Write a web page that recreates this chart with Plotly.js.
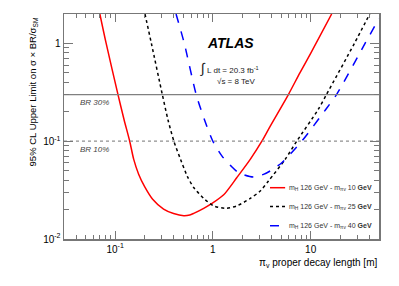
<!DOCTYPE html>
<html><head><meta charset="utf-8">
<script src="https://cdn.plot.ly/plotly-3.0.1.min.js"></script>
<style>html,body{margin:0;padding:0;background:#fff}#c{width:399px;height:286px}</style>
</head><body><div id="c"></div>
<script>
// decay length [m] and 95% CL limit on sigma x BR / sigma_SM
const red_x = [0.0698, 0.081, 0.107, 0.1235, 0.141, 0.155, 0.174, 0.201, 0.242, 0.313, 0.396, 0.504, 0.58, 0.637, 0.806, 0.98, 1.29, 1.76, 2.41, 3.17, 3.85, 5.92, 7.76, 10.0, 16.4];
const red_y = [2.0, 1.0, 0.3, 0.166, 0.1, 0.0652, 0.046, 0.0341, 0.0255, 0.0202, 0.0182, 0.0173, 0.0176, 0.0183, 0.0206, 0.0231, 0.0283, 0.0425, 0.0652, 0.1, 0.142, 0.3, 0.5, 0.79, 2.0];
const blk_x = [0.202, 0.235, 0.304, 0.347, 0.399, 0.467, 0.546, 0.637, 0.806, 1.02, 1.34, 1.76, 2.41, 3.05, 3.70, 5.47, 7.2, 11.9, 14.5, 28, 40.2];
const blk_y = [2.0, 1.0, 0.3, 0.166, 0.1, 0.0652, 0.044, 0.0336, 0.026, 0.0218, 0.0206, 0.0218, 0.026, 0.031, 0.0392, 0.065, 0.1, 0.21, 0.3, 1.0, 2.0];
const blu_x = [0.42, 0.51, 0.675, 0.82, 1.0, 1.24, 1.51, 1.83, 2.60, 3.29, 3.85, 5.07, 8.1, 14.2, 18.4, 36, 50];
const blu_y = [2.0, 1.0, 0.3, 0.166, 0.1, 0.0704, 0.0566, 0.0477, 0.043, 0.0458, 0.0496, 0.0603, 0.1, 0.21, 0.3, 1.0, 1.8];
const names = ['m<sub>H</sub> 126 GeV - m<sub>πv</sub> 10 <b>GeV</b>', 'm<sub>H</sub> 126 GeV - m<sub>πv</sub> 25 <b>GeV</b>', 'm<sub>H</sub> 126 GeV - m<sub>πv</sub> 40 <b>GeV</b>'];
const br_vals = [0.3, 0.1];
const br_labels = ['BR 30%', 'BR 10%'];
const xtickvals = [0.1, 1, 10];
const xticktext = ['10<sup>-1</sup>', '1', '10'];
const ytickvals = [0.01, 0.1, 1];
const yticktext = ['10<sup>-2</sup>', '10<sup>-1</sup>', '1'];

const colors = ['#ff0000', '#000000', '#0000ff'];
const dashes = ['solid', 'dot', 'dash'];
const xs = [red_x, blk_x, blu_x], ys = [red_y, blk_y, blu_y];

const traces = xs.map((x, i) => ({x: x, y: ys[i], name: names[i], mode: 'lines', showlegend: false,
  line: {color: colors[i], width: 1.5, dash: dashes[i], shape: 'spline', smoothing: 0.7}}));
traces.push({x: [0.03, 50], y: [br_vals[0], br_vals[0]], mode: 'lines', showlegend: false, line: {color: '#808080', width: 1.2}});
traces.push({x: [0.03, 50], y: [br_vals[1], br_vals[1]], mode: 'lines', showlegend: false, line: {color: '#909090', width: 1.2, dash: 'dot'}});

const font = 'Liberation Sans, Arial, sans-serif';
const axcol = '#777777';
const legY = [0.228, 0.144, 0.059];
const shapes = legY.map((yy, i) => ({type: 'line', xref: 'paper', yref: 'paper', x0: 0.654, x1: 0.702, y0: yy, y1: yy,
  line: {color: colors[i], width: 1.5, dash: dashes[i]}}));
const annotations = [
  {xref: 'paper', yref: 'paper', x: 0.527, y: 0.871, xanchor: 'center', yanchor: 'middle', text: '<b><i>ATLAS</i></b>', showarrow: false,
    font: {size: 14, family: font, color: '#000'}},
  {xref: 'paper', yref: 'paper', x: 0.525, y: 0.76, xanchor: 'center', yanchor: 'middle', text: '<span style="font-size:14px">∫</span> L dt = 20.3 fb<sup>-1</sup>', showarrow: false,
    font: {size: 8, family: font, color: '#222'}},
  {xref: 'paper', yref: 'paper', x: 0.546, y: 0.698, xanchor: 'center', yanchor: 'middle', text: '√s = 8 TeV', showarrow: false,
    font: {size: 8, family: font, color: '#222'}},
  {xref: 'paper', yref: 'y', x: 0.098, y: Math.log10(br_vals[0]), xanchor: 'center', yanchor: 'middle', yshift: -8, text: '<i>' + br_labels[0] + '</i>', showarrow: false,
    font: {size: 8, family: font, color: '#444'}},
  {xref: 'paper', yref: 'y', x: 0.098, y: Math.log10(br_vals[1]), xanchor: 'center', yanchor: 'middle', yshift: -8, text: '<i>' + br_labels[1] + '</i>', showarrow: false,
    font: {size: 8, family: font, color: '#444'}},
  {xref: 'paper', yref: 'paper', x: -0.098, y: 0.652, xanchor: 'center', yanchor: 'middle', text: '95% CL Upper Limit on σ × BR/σ<sub>SM</sub>', textangle: -90, showarrow: false,
    font: {size: 9.5, family: font, color: '#000'}},
  {xref: 'paper', yref: 'paper', x: 1, y: -0.107, xanchor: 'right', yanchor: 'middle', text: 'π<sub>v</sub> proper decay length [m]', showarrow: false,
    font: {size: 10, family: font, color: '#000'}}
];
legY.forEach((yy, i) => annotations.push({xref: 'paper', yref: 'paper', x: 0.708, y: yy, xanchor: 'left', yanchor: 'middle',
  text: names[i], showarrow: false, font: {size: 7, family: font, color: '#333'}}));

const layout = {
  width: 399, height: 286,
  margin: {l: 64, r: 20, t: 14, b: 47},
  paper_bgcolor: '#fff', plot_bgcolor: '#fff',
  font: {family: font, size: 10, color: '#000'},
  showlegend: false,
  xaxis: {type: 'log', range: [Math.log10(0.03), Math.log10(50)], showgrid: false, zeroline: false,
    showline: true, linecolor: axcol, linewidth: 1.5, mirror: 'allticks',
    ticks: 'inside', ticklen: 8, tickcolor: axcol, tickwidth: 1,
    tickvals: xtickvals, ticktext: xticktext, tickfont: {size: 10, color: '#000'},
    minor: {ticks: 'inside', ticklen: 4, tickcolor: axcol, dtick: 'D1', showgrid: false}},
  yaxis: {type: 'log', range: [-2, Math.log10(2)], showgrid: false, zeroline: false,
    showline: true, linecolor: axcol, linewidth: 1.5, mirror: 'allticks',
    ticks: 'inside', ticklen: 9, tickcolor: axcol, tickwidth: 1,
    tickvals: ytickvals, ticktext: yticktext, tickfont: {size: 10, color: '#000'},
    minor: {ticks: 'inside', ticklen: 5, tickcolor: axcol, dtick: 'D1', showgrid: false}},
  shapes: shapes,
  annotations: annotations
};
Plotly.newPlot('c', traces, layout, {displayModeBar: false, staticPlot: true});
</script></body></html>
